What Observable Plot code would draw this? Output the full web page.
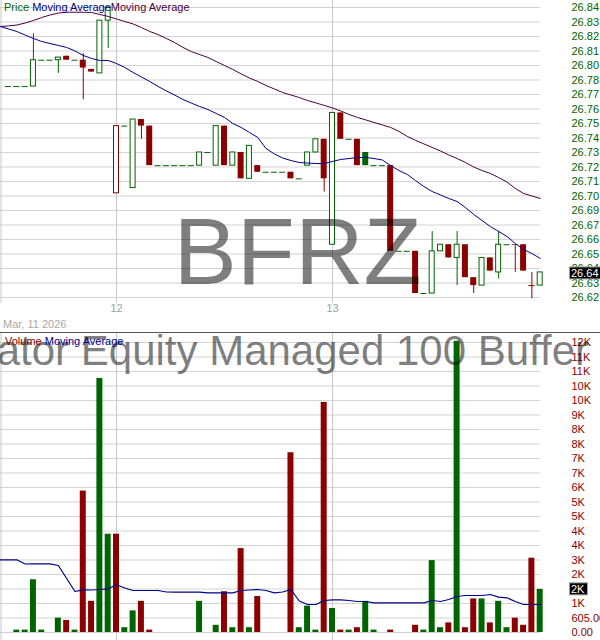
<!DOCTYPE html>
<html><head><meta charset="utf-8">
<script src="https://cdn.jsdelivr.net/npm/d3@7"></script>
<script src="https://cdn.jsdelivr.net/npm/@observablehq/plot@0.6"></script>
<style>
html,body{margin:0;padding:0;background:#fff;}
#chart{position:relative;width:600px;height:640px;overflow:hidden;font-family:"Liberation Sans",Arial,sans-serif;}
#chart svg{display:block;}
</style></head><body><div id="chart"></div>
<script>
// ---- data ----
const ticker = "BFRZ";
const fundName = "Innovator Equity Managed 100 Buffer ETF";
const dateLabel = "Mar, 11 2026";
const sessions = [{day: "11", bars: 13}, {day: "12", bars: 26}, {day: "13", bars: 26}];

const open = [26.78,26.78,26.78,26.78,26.80,26.80,26.80,26.803,26.80,26.80,26.793,26.79,26.83,
  26.699,26.75,26.703,26.755,26.75,26.72,26.72,26.72,26.72,26.72,26.72,26.73,26.72,26.75,26.72,26.73,26.71,26.72,26.715,26.715,26.715,26.715,26.71,26.72,26.73,26.74,
  26.66,26.76,26.74,26.74,26.73,26.72,26.72,26.72,26.655,26.655,26.655,26.623,26.623,26.655,26.66,26.65,26.66,26.635,26.629,26.65,26.639,26.66,26.66,26.66,26.629,26.629];
const high = [26.78,26.78,26.78,26.82,26.80,26.80,26.802,26.803,26.80,26.805,26.793,26.83,26.84,
  26.75,26.75,26.755,26.755,26.75,26.72,26.72,26.72,26.72,26.72,26.73,26.73,26.75,26.75,26.73,26.73,26.735,26.72,26.715,26.715,26.715,26.715,26.71,26.73,26.74,26.74,
  26.76,26.76,26.74,26.74,26.73,26.72,26.72,26.72,26.655,26.655,26.655,26.623,26.67,26.66,26.66,26.67,26.66,26.635,26.65,26.65,26.67,26.66,26.66,26.66,26.639,26.639];
const low = [26.78,26.78,26.78,26.78,26.80,26.80,26.79,26.80,26.80,26.77,26.791,26.79,26.809,
  26.699,26.75,26.703,26.74,26.72,26.72,26.72,26.72,26.72,26.72,26.72,26.73,26.72,26.72,26.72,26.71,26.71,26.715,26.715,26.715,26.715,26.71,26.71,26.72,26.73,26.70,
  26.66,26.74,26.74,26.72,26.72,26.72,26.72,26.655,26.655,26.655,26.623,26.623,26.623,26.655,26.65,26.629,26.635,26.623,26.629,26.64,26.634,26.66,26.639,26.64,26.619,26.629];
const close = [26.78,26.78,26.78,26.80,26.80,26.80,26.802,26.80,26.80,26.794,26.791,26.83,26.84,
  26.75,26.75,26.755,26.75,26.72,26.72,26.72,26.72,26.72,26.72,26.73,26.73,26.75,26.72,26.73,26.71,26.735,26.715,26.715,26.715,26.715,26.71,26.71,26.73,26.74,26.71,
  26.76,26.74,26.74,26.72,26.72,26.72,26.72,26.655,26.655,26.655,26.623,26.623,26.655,26.66,26.65,26.66,26.635,26.629,26.65,26.64,26.66,26.66,26.6595,26.64,26.629,26.639];
const volume = [0,100,100,2200,100,0,600,500,100,5900,1300,10600,4100,
  4100,200,900,1300,100,0,0,0,0,0,1300,0,300,1700,200,3500,200,1500,0,0,0,7500,200,1100,100,9600,
  1000,100,100,200,1300,100,0,100,0,0,300,100,3000,200,400,12150,200,1400,1400,400,1300,200,600,300,3100,1800];

// moving averages: first value belongs to the bar just before the visible window
const maFast = [26.8256,26.8237,26.8218,26.8191,26.8165,26.8142,26.8127,26.8112,26.8097,26.8070,26.8036,26.8013,26.7998,26.7998,
  26.7975,26.7945,26.7907,26.7873,26.7839,26.7801,26.7767,26.7736,26.7702,26.7675,26.7649,26.7626,26.7596,26.7566,26.7520,26.7490,26.7452,26.7414,26.7330,26.7289,26.7258,26.7239,26.7224,26.7220,26.7216,26.7216,
  26.7232,26.7247,26.7254,26.7262,26.7262,26.7254,26.7243,26.7201,26.7163,26.7133,26.7087,26.7042,26.7004,26.6978,26.6951,26.6928,26.6883,26.6830,26.6784,26.6738,26.6701,26.6663,26.6610,26.6564,26.6534,26.6496];
const maSlow = [26.8256,26.8260,26.8267,26.8282,26.8301,26.8324,26.8343,26.8358,26.8364,26.8364,26.8364,26.8362,26.8347,26.8332,
  26.8313,26.8294,26.8275,26.8248,26.8218,26.8195,26.8165,26.8134,26.8097,26.8066,26.8043,26.8021,26.7990,26.7960,26.7930,26.7896,26.7865,26.7839,26.7808,26.7782,26.7755,26.7736,26.7717,26.7694,26.7676,26.7657,
  26.7638,26.7615,26.7588,26.7566,26.7547,26.7528,26.7509,26.7490,26.7460,26.7422,26.7392,26.7365,26.7338,26.7311,26.7281,26.7254,26.7224,26.7190,26.7163,26.7141,26.7110,26.7076,26.7027,26.6989,26.6970,26.6951];
const volMA = [3033,3033,3033,2858,2866,2866,2866,2795,2253,1710,1781,1773,1794,1823,
  1990,1857,1752,1752,1752,1752,1690,1681,1681,1681,1681,1656,1656,1656,1656,1752,1773,1794,1752,1656,1690,1794,1314,1168,1168,1335,
  1364,1364,1335,1293,1293,1239,1239,1239,1239,1239,1239,1239,1335,1293,1377,1502,1544,1544,1544,1585,1473,1448,1293,1168,1168,1168];

const priceTicks = [26.84,26.829,26.818,26.807,26.796,26.785,26.774,26.763,26.752,26.741,26.73,26.719,26.708,26.697,26.686,26.675,26.664,26.653,26.642,26.631,26.62];
const priceTickLabels = ["26.84","26.83","26.82","26.81","26.80","26.78","26.77","26.76","26.75","26.74","26.73","26.72","26.71","26.70","26.69","26.67","26.66","26.65","26.64","26.63","26.62"];
const volTicks = [0,605,1210,1815,2420,3025,3630,4235,4840,5445,6050,6655,7260,7865,8470,9075,9680,10285,10890,11495,12100];
const volTickLabels = ["0.00","605.00","1K","2K","2K","3K","4K","4K","5K","5K","6K","7K","7K","8K","8K","9K","10K","10K","11K","11K","12K"];

// ---- styling ----
const GREEN = "#006400", RED = "#8b0000", BLUE = "#00008b", PURPLE = "#4b0040";
const GRID = "#d3d3d3", VGRID = "#c8c8c8";
const FONT = "'Liberation Sans', Arial, sans-serif";

// ---- derived ----
const bars = open.map((o, i) => ({
  i, o, h: high[i], l: low[i], c: close[i], v: volume[i],
  up: i === 0 || close[i] >= close[i - 1]
}));
const col = d => d.up ? GREEN : RED;
let acc = 0;
const sessionStarts = sessions.map(s => { const r = {day: s.day, start: acc}; acc += s.bars; return r; });
const dayLines = sessionStarts.slice(1);
const ma = (arr) => arr.map((v, k) => ({i: k - 1, v}));
const half = 0.36, halfH = 0.3;
const xDomain = [-0.963, 64.037];

const chart = document.getElementById("chart");

function addText(svg, x, y, size, fill, txt, anchor) {
  return svg.append("text").attr("x", x).attr("y", y).attr("text-anchor", anchor || "start")
    .style("font-family", FONT).style("font-size", size + "px").attr("fill", fill).text(txt);
}

// ---- price panel ----
const price = Plot.plot({
  width: 600, height: 332,
  marginTop: 0, marginBottom: 32, marginLeft: 0, marginRight: 60,
  style: {fontFamily: FONT, fontSize: "11px", background: "transparent", overflow: "visible"},
  x: {type: "linear", domain: xDomain, axis: null},
  y: {domain: [26.6177, 26.8453], axis: null},
  marks: [
    Plot.ruleY(priceTicks, {stroke: GRID}),
    Plot.ruleX(dayLines, {x: "start", stroke: VGRID, insetBottom: -3}),
    Plot.ruleX([xDomain[0]], {stroke: VGRID, dx: 0.5, insetBottom: -3}),
    Plot.ruleX(bars.filter(d => d.h > d.l), {x: "i", y1: "l", y2: "h", stroke: col}),
    Plot.rect(bars.filter(d => d.c > d.o), {x1: d => d.i - halfH, x2: d => d.i + halfH, y1: "o", y2: "c", fill: "white", stroke: col}),
    Plot.rect(bars.filter(d => d.c < d.o), {x1: d => d.i - half, x2: d => d.i + half, y1: "o", y2: "c", fill: col}),
    Plot.ruleY(bars.filter(d => d.c === d.o), {y: "c", x1: d => d.i - half, x2: d => d.i + half, stroke: col}),
    Plot.line(ma(maSlow), {x: "i", y: "v", stroke: PURPLE, strokeWidth: 1}),
    Plot.line(ma(maFast), {x: "i", y: "v", stroke: BLUE, strokeWidth: 1}),
    Plot.text(priceTicks, {y: d => d, text: (d, i) => priceTickLabels[i], frameAnchor: "right", dx: 31, textAnchor: "start", fill: GREEN, fontSize: 11}),
    Plot.text(dayLines, {x: "start", text: "day", frameAnchor: "bottom", dy: 11, fill: "#a0a0a0", fontSize: 11})
  ]
});
chart.appendChild(price);

{
  const svg = d3.select(price);
  const ys = price.scale("y");
  addText(svg, 297.5, 283.5, 95, "#000", ticker, "middle").attr("fill-opacity", 0.5);
  const lg = svg.append("text").attr("x", 4).attr("y", 10.5).attr("text-anchor", "start")
    .style("font-family", FONT).style("font-size", "11px");
  lg.append("tspan").attr("fill", GREEN).text("Price ");
  lg.append("tspan").attr("fill", BLUE).text("Moving Average");
  lg.append("tspan").attr("fill", PURPLE).text("Moving Average");
  addText(svg, 3, 327.5, 11, "#a8a8a8", dateLabel);
  const last = close[close.length - 1];
  const yl = ys.apply(last) + 1;
  svg.append("rect").attr("x", 569.5).attr("y", yl - 6).attr("width", 32).attr("height", 12)
    .attr("fill", "#000").attr("stroke", "#a0a0a0");
  addText(svg, 571, yl + 4, 11, "#fff", d3.format(".2f")(last));
}

// ---- volume panel ----
const vol = Plot.plot({
  width: 600, height: 308,
  marginTop: 0, marginBottom: 0, marginLeft: 0, marginRight: 60,
  style: {fontFamily: FONT, fontSize: "11px", background: "transparent", overflow: "visible"},
  x: {type: "linear", domain: xDomain, axis: null},
  y: {domain: [-334, 12516], axis: null},
  marks: [
    Plot.ruleY(volTicks, {stroke: GRID}),
    Plot.ruleX(dayLines, {x: "start", stroke: VGRID}),
    Plot.ruleX([xDomain[0]], {stroke: VGRID, dx: 0.5}),
    Plot.rect(bars.filter(d => d.v > 0), {x1: d => d.i - half, x2: d => d.i + half, y1: 0, y2: "v", fill: col}),
    Plot.line(ma(volMA), {x: "i", y: "v", stroke: BLUE, strokeWidth: 1.2}),
    Plot.text(volTicks, {y: d => d, text: (d, i) => volTickLabels[i], frameAnchor: "right", dx: 31, textAnchor: "start", fill: RED, fontSize: 11})
  ]
});
chart.appendChild(vol);

{
  const svg = d3.select(vol);
  const ys = vol.scale("y");
  svg.append("line").attr("x1", 0).attr("x2", 600).attr("y1", 0.5).attr("y2", 0.5).attr("stroke", "#555");
  addText(svg, 287, 33, 42, "#000", fundName, "middle").attr("fill-opacity", 0.5);
  const lg = svg.append("text").attr("x", 5).attr("y", 13).attr("text-anchor", "start")
    .style("font-family", FONT).style("font-size", "11px");
  lg.append("tspan").attr("fill", RED).text("Volume ");
  lg.append("tspan").attr("fill", BLUE).text("Moving Average");
  const lastV = volume[volume.length - 1];
  const yv = ys.apply(lastV);
  const fmt = v => v >= 1000 ? Math.round(v / 1000) + "K" : d3.format(".2f")(v);
  svg.append("rect").attr("x", 569.5).attr("y", yv - 6).attr("width", 18).attr("height", 12)
    .attr("fill", "#000").attr("stroke", "#a0a0a0");
  addText(svg, 571, yv + 4, 11, "#fff", fmt(lastV));
}
</script>
</body></html>
